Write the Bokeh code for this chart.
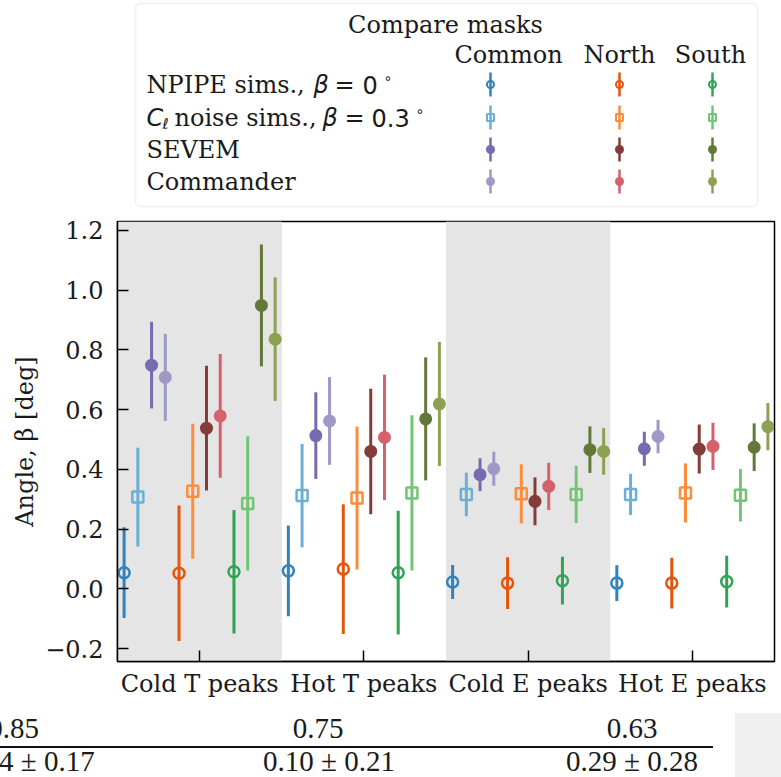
from bokeh.plotting import figure
from bokeh.layouts import column
from bokeh.models import Range1d, FixedTicker, CustomJSTickFormatter, BoxAnnotation, Div
from bokeh.core.properties import value
from bokeh.embed import file_html
from bokeh.resources import INLINE

# ---------------------------------------------------------------- data
categories = ["Cold T peaks", "Hot T peaks", "Cold E peaks", "Hot E peaks"]
masks = ["Common", "North", "South"]
datasets = ["NPIPE", "Cl noise", "SEVEM", "Commander"]

# fitted angle beta [deg] per category, and its 1-sigma error
npipe_common = [0.054, 0.060, 0.023, 0.019]
npipe_common_err = [0.152, 0.152, 0.057, 0.060]
cl_common = [0.307, 0.312, 0.316, 0.316]
cl_common_err = [0.165, 0.173, 0.073, 0.069]
sevem_common = [0.749, 0.513, 0.382, 0.469]
sevem_common_err = [0.145, 0.145, 0.055, 0.057]
commander_common = [0.708, 0.562, 0.402, 0.510]
commander_common_err = [0.146, 0.147, 0.057, 0.056]

npipe_north = [0.052, 0.066, 0.019, 0.019]
npipe_north_err = [0.227, 0.217, 0.087, 0.085]
cl_north = [0.327, 0.304, 0.318, 0.321]
cl_north_err = [0.226, 0.239, 0.099, 0.099]
sevem_north = [0.538, 0.460, 0.293, 0.468]
sevem_north_err = [0.209, 0.210, 0.080, 0.082]
commander_north = [0.579, 0.507, 0.343, 0.477]
commander_north_err = [0.207, 0.210, 0.079, 0.079]

npipe_south = [0.057, 0.054, 0.027, 0.024]
npipe_south_err = [0.207, 0.207, 0.080, 0.087]
cl_south = [0.286, 0.321, 0.316, 0.313]
cl_south_err = [0.225, 0.260, 0.096, 0.088]
sevem_south = [0.949, 0.569, 0.466, 0.474]
sevem_south_err = [0.204, 0.206, 0.078, 0.080]
commander_south = [0.836, 0.619, 0.460, 0.543]
commander_south_err = [0.207, 0.208, 0.078, 0.079]

y_ticks = [-0.2, 0.0, 0.2, 0.4, 0.6, 0.8, 1.0, 1.2]

# rows of the table printed under the figure
table_row_top = ["0.85", "0.75", "0.63"]
table_row_bottom = ["4 ± 0.17", "0.10 ± 0.21", "0.29 ± 0.28"]

values = {
    "Common": [npipe_common, cl_common, sevem_common, commander_common],
    "North": [npipe_north, cl_north, sevem_north, commander_north],
    "South": [npipe_south, cl_south, sevem_south, commander_south],
}
errors = {
    "Common": [npipe_common_err, cl_common_err, sevem_common_err, commander_common_err],
    "North": [npipe_north_err, cl_north_err, sevem_north_err, commander_north_err],
    "South": [npipe_south_err, cl_south_err, sevem_south_err, commander_south_err],
}

# ---------------------------------------------------------------- style
colors = {
    "Common": ["#3182bd", "#6baed6", "#756bb1", "#9e9ac8"],
    "North": ["#e6550d", "#fd8d3c", "#843c39", "#d6616b"],
    "South": ["#31a354", "#74c476", "#637939", "#8ca252"],
}
# (marker, size, hollow) per dataset
marker_style = [("circle", 11, True), ("square", 11, True),
                ("circle", 13, False), ("circle", 13, False)]
legend_marker_style = [("circle", 7, True), ("square", 7, True),
                       ("circle", 9, False), ("circle", 9, False)]

SERIF = "DejaVu Serif"
SANS = "DejaVu Sans"
TEXT = "#1a1a1a"
FS = "24px"

W = 781
H_LEG, H_MAIN, H_TAB = 214, 486, 77
FRAME_L, FRAME_R = 117, 7     # horizontal borders shared by the stacked panels


def put_marker(f, x, y, style, color, line_width):
    marker, size, hollow = style
    if hollow:
        f.scatter(x, y, marker=marker, size=size, fill_color=None,
                  line_color=color, line_width=line_width)
    else:
        f.scatter(x, y, marker=marker, size=size, fill_color=color,
                  line_color=None)


# ---------------------------------------------------------------- legend panel
# x/y ranges chosen so that one data unit is one pixel of the panel
leg = figure(width=W, height=H_LEG, x_range=Range1d(FRAME_L, W - FRAME_R),
             y_range=Range1d(H_LEG, 0), x_axis_type=None, y_axis_type=None,
             output_backend="svg", toolbar_location=None,
             min_border_left=FRAME_L, min_border_right=FRAME_R,
             min_border_top=0, min_border_bottom=0)
leg.outline_line_color = None
leg.grid.visible = False
leg.add_layout(BoxAnnotation(left=135, right=757, top=3, bottom=206,
                             fill_color="white", fill_alpha=1,
                             line_color="#cccccc", line_width=1.5,
                             border_radius=5, level="underlay"))


def txt(f, x, y, s, font=SERIF, size=FS, style="normal", align="left"):
    f.text(x=[x], y=[y], text=[s], text_font=value(font),
           text_font_size=value(size), text_font_style=style,
           text_align=align, text_baseline="middle", text_color=TEXT)


txt(leg, 445, 24, "Compare masks", align="center")
header_x = [508, 619, 710]
for hx, name in zip(header_x, masks):
    txt(leg, hx, 54, name, align="center")

row_y = [84, 117, 149, 181]
# row 1: NPIPE sims., beta = 0 deg
txt(leg, 146, row_y[0], "NPIPE sims.,")
txt(leg, 313, row_y[0], "β", font=SANS, style="italic")
txt(leg, 334, row_y[0], "=", font=SANS)
txt(leg, 362, row_y[0], "0", font=SANS)
txt(leg, 383, row_y[0] - 7, "∘", font=SANS, size="14px")
# row 2: C_ell noise sims., beta = 0.3 deg
txt(leg, 146, row_y[1], "C", font=SANS, style="italic")
txt(leg, 162, row_y[1] + 6, "ℓ", font=SANS, size="15px", style="italic")
txt(leg, 174, row_y[1], "noise sims.,")
txt(leg, 322, row_y[1], "β", font=SANS, style="italic")
txt(leg, 344, row_y[1], "=", font=SANS)
txt(leg, 371, row_y[1], "0.3", font=SANS)
txt(leg, 415, row_y[1] - 7, "∘", font=SANS, size="14px")
# rows 3 and 4
txt(leg, 146, row_y[2], "SEVEM")
txt(leg, 146, row_y[3], "Commander")

marker_col_x = [490, 619, 712]
for mx, mask in zip(marker_col_x, masks):
    for d in range(len(datasets)):
        c = colors[mask][d]
        leg.segment(x0=[mx], y0=[row_y[d] - 12], x1=[mx], y1=[row_y[d] + 12],
                    line_color=c, line_width=2.5)
        put_marker(leg, [mx], [row_y[d]], legend_marker_style[d], c, 2)

# ---------------------------------------------------------------- main plot
p = figure(width=W, height=H_MAIN, x_range=Range1d(-0.5, 3.5),
           y_range=Range1d(-0.2435, 1.230), output_backend="svg",
           toolbar_location=None, min_border_left=FRAME_L,
           min_border_right=FRAME_R, min_border_top=7, min_border_bottom=39)
p.grid.visible = False
p.outline_line_color = "black"
p.outline_line_width = 1.5
p.background_fill_color = "white"

# shaded bands behind the cold-peak categories
for i, cat in enumerate(categories):
    if cat.startswith("Cold"):
        p.add_layout(BoxAnnotation(left=i - 0.5, right=i + 0.5,
                                   fill_color="#e5e5e5", fill_alpha=1,
                                   line_color=None, level="underlay"))

n_series = len(masks) * len(datasets)
offsets = [(k - (n_series - 1) / 2) * 0.0836 for k in range(n_series)]

for m, mask in enumerate(masks):
    for d in range(len(datasets)):
        k = m * len(datasets) + d
        xs = [i + offsets[k] for i in range(len(categories))]
        ys = values[mask][d]
        es = errors[mask][d]
        c = colors[mask][d]
        p.segment(x0=xs, y0=[y - e for y, e in zip(ys, es)],
                  x1=xs, y1=[y + e for y, e in zip(ys, es)],
                  line_color=c, line_width=3)
        put_marker(p, xs, ys, marker_style[d], c, 2.5)

p.xaxis.ticker = FixedTicker(ticks=list(range(len(categories))))
p.xaxis.major_label_overrides = {i: c for i, c in enumerate(categories)}
p.yaxis.ticker = FixedTicker(ticks=y_ticks)
p.yaxis.formatter = CustomJSTickFormatter(
    code="return tick.toFixed(1).replace('-', '\\u2212');")
p.yaxis.axis_label = "Angle, β [deg]"

for ax in (p.xaxis, p.yaxis):
    ax.axis_line_color = "black"
    ax.axis_line_width = 1.5
    ax.major_tick_in = 11
    ax.major_tick_out = 0
    ax.major_tick_line_width = 1.5
    ax.minor_tick_line_color = None
    ax.major_label_text_font = SERIF
    ax.major_label_text_font_size = FS
    ax.major_label_text_color = TEXT
    ax.axis_label_text_font = SERIF
    ax.axis_label_text_font_size = FS
    ax.axis_label_text_font_style = "normal"
    ax.axis_label_text_color = TEXT
p.xaxis.major_label_standoff = 8
p.yaxis.major_label_standoff = 14
p.yaxis.axis_label_standoff = 3

# ---------------------------------------------------------------- table strip
def span(s, x, y, align):
    shift = {"left": "0", "center": "-50%", "right": "-100%"}[align]
    return (f'<span style="position:absolute;left:{x}px;top:{y - 13}px;'
            f'line-height:26px;white-space:nowrap;'
            f'transform:translateX({shift});">{s}</span>')


top_x = [39, 318, 632]
top_align = ["right", "center", "center"]
bot_x = [-1, 329, 632]
bot_align = ["left", "center", "center"]
parts = [span(s, x, 28, a) for s, x, a in zip(table_row_top, top_x, top_align)]
parts += [span(s, x, 61, a) for s, x, a in zip(table_row_bottom, bot_x, bot_align)]
parts.append('<div style="position:absolute;left:0;top:46px;width:713px;'
             'height:1.6px;background:#111;"></div>')
parts.append('<div style="position:absolute;left:735px;top:13px;width:46px;'
             'height:64px;background:#f0f0f0;"></div>')
table_html = ('<div style="position:relative;width:781px;height:77px;'
              'overflow:hidden;background:white;font-family:\'Liberation Serif\';'
              f'font-size:29px;color:{TEXT};">' + "".join(parts) + "</div>")
tab = Div(text=table_html, width=W, height=H_TAB, margin=(0, 0, 0, 0))

layout = column(leg, p, tab, spacing=0)
open("out.html", "w").write(file_html(layout, INLINE))
